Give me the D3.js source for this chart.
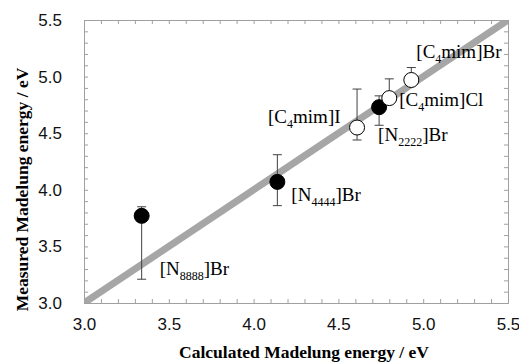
<!DOCTYPE html>
<html>
<head>
<meta charset="utf-8">
<script src="https://cdn.jsdelivr.net/npm/d3@7"></script>
<style>
  body { margin: 0; background: #fff; }
  .tick text { font-family: "Liberation Sans", Arial, sans-serif; font-size: 17px; fill: #111; }
  .label { font-family: "Liberation Serif", "Times New Roman", serif; font-size: 19px; fill: #000; }
  .title { font-family: "Liberation Serif", "Times New Roman", serif; font-size: 17.5px; font-weight: bold; fill: #000; }
</style>
</head>
<body>
<div id="chart"></div>
<script>
// salts
var names = ['N8888', 'N4444', 'N2222', 'C4mimI', 'C4mimCl', 'C4mimBr'];
var calculated = [3.34, 4.14, 4.74, 4.61, 4.80, 4.93];
var measured = [3.77, 4.07, 4.73, 4.55, 4.81, 4.97];
var errLow = [3.21, 3.86, 4.57, 4.44, 4.78, 4.95];
var errHigh = [3.85, 4.31, 4.83, 4.89, 4.98, 5.08];
var filled = [true, true, true, false, false, false];
// label text: [prefix, subscript, suffix]
var labelParts = [
    ['[N', '8888', ']Br'],
    ['[N', '4444', ']Br'],
    ['[N', '2222', ']Br'],
    ['[C', '4', 'mim]I'],
    ['[C', '4', 'mim]Cl'],
    ['[C', '4', 'mim]Br']
];
var majorTicks = [3.0, 3.5, 4.0, 4.5, 5.0, 5.5];

var margin = { top: 20, right: 11, bottom: 60, left: 84 };
var width = 519 - margin.left - margin.right;
var height = 363 - margin.top - margin.bottom;

var svg = d3.select('#chart')
    .append('svg')
    .attr('width', 519)
    .attr('height', 363)
    .append('g')
    .attr('transform', 'translate(' + margin.left + ',' + margin.top + ')');

var x = d3.scaleLinear().domain([3, 5.5]).range([0, width]);
var y = d3.scaleLinear().domain([3, 5.5]).range([height, 0]);

var minorTicks = d3.range(30, 56).map(function (d) { return d / 10; });
var frameColor = '#a0a0a0';

// 1:1 line
svg.append('clipPath').attr('id', 'clip')
    .append('rect').attr('width', width).attr('height', height);
svg.append('line')
    .attr('clip-path', 'url(#clip)')
    .attr('x1', x(3)).attr('y1', y(3))
    .attr('x2', x(5.5)).attr('y2', y(5.5))
    .attr('stroke', '#a6a6a6')
    .attr('stroke-width', 7);

// minor ticks on all sides, inside
function tickAxis(axis, tr) {
    var g = svg.append('g').attr('transform', tr).call(axis);
    g.select('.domain').attr('stroke', frameColor);
    g.selectAll('.tick line').attr('stroke', frameColor);
    return g;
}
tickAxis(d3.axisBottom(x).tickValues(minorTicks).tickSize(-4).tickFormat(''), 'translate(0,' + height + ')');
tickAxis(d3.axisTop(x).tickValues(minorTicks).tickSize(-4).tickFormat(''), 'translate(0,0)');
tickAxis(d3.axisLeft(y).tickValues(minorTicks).tickSize(-4).tickFormat(''), 'translate(0,0)');
tickAxis(d3.axisRight(y).tickValues(minorTicks).tickSize(-4).tickFormat(''), 'translate(' + width + ',0)');

// major tick labels
var xl = svg.append('g')
    .attr('transform', 'translate(0,' + height + ')')
    .call(d3.axisBottom(x).tickValues(majorTicks).tickSize(0).tickPadding(15).tickFormat(d3.format('.1f')));
xl.select('.domain').remove();
var yl = svg.append('g')
    .call(d3.axisLeft(y).tickValues(majorTicks).tickSize(0).tickPadding(22).tickFormat(d3.format('.1f')));
yl.select('.domain').remove();

var data = names.map(function (n, i) {
    return { name: n, cx: calculated[i], my: measured[i], lo: errLow[i], hi: errHigh[i], filled: filled[i], parts: labelParts[i] };
});

// error bars
var eb = svg.append('g').selectAll('g').data(data).enter().append('g')
    .attr('stroke', '#404040').attr('stroke-width', 1);
eb.append('line')
    .attr('x1', function (d) { return x(d.cx); }).attr('x2', function (d) { return x(d.cx); })
    .attr('y1', function (d) { return y(d.lo); }).attr('y2', function (d) { return y(d.hi); });
eb.append('line')
    .attr('x1', function (d) { return x(d.cx) - 4.5; }).attr('x2', function (d) { return x(d.cx) + 4.5; })
    .attr('y1', function (d) { return y(d.lo); }).attr('y2', function (d) { return y(d.lo); });
eb.append('line')
    .attr('x1', function (d) { return x(d.cx) - 4.5; }).attr('x2', function (d) { return x(d.cx) + 4.5; })
    .attr('y1', function (d) { return y(d.hi); }).attr('y2', function (d) { return y(d.hi); });

// markers
svg.append('g').selectAll('circle').data(data).enter().append('circle')
    .attr('cx', function (d) { return x(d.cx); })
    .attr('cy', function (d) { return y(d.my); })
    .attr('r', 7.5)
    .attr('fill', function (d) { return d.filled ? '#000' : '#fff'; })
    .attr('stroke', '#000')
    .attr('stroke-width', 1);

// point labels (offset in px from marker)
var labelOffset = {
    N8888: [18, 59], N4444: [14, 19], N2222: [-1, 34],
    C4mimI: [-89, -5], C4mimCl: [10, 8], C4mimBr: [5, -22]
};
var labels = svg.append('g').selectAll('text').data(data).enter().append('text')
    .attr('class', 'label')
    .attr('x', function (d) { return x(d.cx) + labelOffset[d.name][0]; })
    .attr('y', function (d) { return y(d.my) + labelOffset[d.name][1]; });
labels.append('tspan').text(function (d) { return d.parts[0]; });
labels.append('tspan').attr('dy', 5).attr('font-size', '12px').text(function (d) { return d.parts[1]; });
labels.append('tspan').attr('dy', -5).text(function (d) { return d.parts[2]; });

// axis titles
svg.append('text')
    .attr('class', 'title')
    .attr('text-anchor', 'middle')
    .attr('x', width / 2 + 8)
    .attr('y', height + 55)
    .text('Calculated Madelung energy / eV');

svg.append('text')
    .attr('class', 'title')
    .attr('text-anchor', 'middle')
    .attr('transform', 'rotate(-90)')
    .attr('x', -height / 2 - 28)
    .attr('y', -56)
    .text('Measured Madelung energy / eV');
</script>
</body>
</html>
